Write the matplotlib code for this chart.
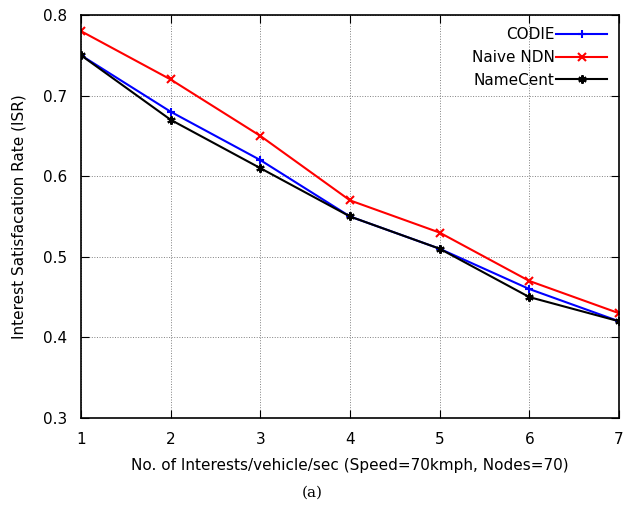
import matplotlib
matplotlib.use('Agg')
import matplotlib.pyplot as plt

x = [1, 2, 3, 4, 5, 6, 7]
codie = [0.75, 0.68, 0.62, 0.55, 0.51, 0.46, 0.42]
naive = [0.78, 0.72, 0.65, 0.57, 0.53, 0.47, 0.43]
namecent = [0.75, 0.67, 0.61, 0.55, 0.51, 0.45, 0.42]

plt.rcParams['font.family'] = 'DejaVu Sans'
fig = plt.figure(figsize=(6.25, 5.12), dpi=100)
ax = fig.add_axes([0.1296, 0.1836, 0.8608, 0.7871])

ax.plot(x, codie, color='blue', marker='+', ms=6, mew=1.5, lw=1.5, label='CODIE')
ax.plot(x, naive, color='red', marker='x', ms=6, mew=1.5, lw=1.5, label='Naive NDN')
ax.plot(x, namecent, color='black', marker=(6, 2, 0), ms=6, mew=1.5, lw=1.5, label='NameCent')

ax.set_xlim(1, 7)
ax.set_ylim(0.3, 0.8)
ax.set_xticks(x)
ax.set_yticks([0.3, 0.4, 0.5, 0.6, 0.7, 0.8])
ax.grid(True, color='gray', ls=':', lw=0.7)
ax.tick_params(direction='in', top=True, right=True, labelsize=11, length=6, pad=10)
for s in ax.spines.values():
    s.set_linewidth(1.2)

ax.set_xlabel('No. of Interests/vehicle/sec (Speed=70kmph, Nodes=70)', fontsize=11, labelpad=8)
ax.set_ylabel('Interest Satisfacation Rate (ISR)', fontsize=11, labelpad=12)

ax.legend(loc='upper right', markerfirst=False, frameon=False, fontsize=11,
          handlelength=3.3, handletextpad=0.1, labelspacing=0.5, borderaxespad=0.4)

fig.text(0.5, 0.03, '(a)', family='DejaVu Serif', fontsize=11, ha='center')

fig.savefig('out.png', dpi=100)
